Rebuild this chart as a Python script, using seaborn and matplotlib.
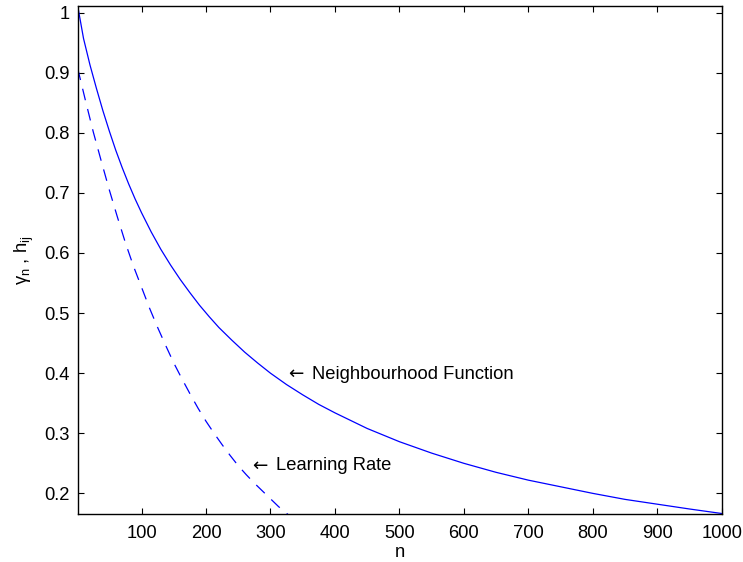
import matplotlib
matplotlib.use("Agg")
import matplotlib.pyplot as plt
import matplotlib.transforms as mtransforms
import seaborn as sns
import pandas as pd

# Neighbourhood function h_ij over the iterations n
nbr_n = [1, 10, 20, 30, 40, 50, 60, 70, 80, 90, 100, 115, 130, 145, 160, 175,
         190, 205, 220, 240, 260, 280, 300, 325, 350, 375, 400, 450, 500, 550,
         600, 650, 700, 750, 800, 850, 900, 950, 1000]
nbr_h = [1.011, 0.957, 0.913, 0.874, 0.837, 0.803, 0.771, 0.742, 0.715, 0.690,
         0.667, 0.635, 0.606, 0.580, 0.556, 0.534, 0.513, 0.494, 0.476, 0.455,
         0.435, 0.417, 0.400, 0.381, 0.364, 0.348, 0.334, 0.308, 0.286, 0.267,
         0.250, 0.235, 0.222, 0.211, 0.200, 0.190, 0.182, 0.174, 0.1665]

# Learning rate gamma_n over the iterations n
lr_n = [1, 12.5, 25, 37.5, 50, 62.5, 75, 87.5, 100, 112.5, 125, 137.5, 150,
        162.5, 175, 187.5, 200, 212.5, 225, 237.5, 250, 262.5, 275, 287.5,
        300, 312.5, 327]
lr_g = [0.907, 0.856, 0.802, 0.753, 0.705, 0.660, 0.617, 0.578, 0.543, 0.508,
        0.476, 0.446, 0.417, 0.391, 0.366, 0.342, 0.320, 0.300, 0.281, 0.263,
        0.246, 0.231, 0.217, 0.204, 0.191, 0.178, 0.165]

xticks = [100, 200, 300, 400, 500, 600, 700, 800, 900, 1000]
yticks = [0.2, 0.3, 0.4, 0.5, 0.6, 0.7, 0.8, 0.9, 1.0]
ytick_labels = ["0.2", "0.3", "0.4", "0.5", "0.6", "0.7", "0.8", "0.9", "1"]

# curve labels: (text, n, value)
labels = [("Neighbourhood Function", 328, 0.398),
          ("Learning Rate", 272, 0.2456)]

FS = 13.2

sns.set_style("ticks")
plt.rcParams["font.family"] = ["Liberation Sans", "DejaVu Sans"]
plt.rcParams["mathtext.fontset"] = "custom"
plt.rcParams["mathtext.rm"] = "Liberation Sans"
plt.rcParams["mathtext.it"] = "Liberation Sans"
plt.rcParams["lines.scale_dashes"] = False
plt.rcParams["text.color"] = "black"
plt.rcParams["axes.labelcolor"] = "black"

nbr = pd.DataFrame({"n": nbr_n, "value": nbr_h})
lr = pd.DataFrame({"n": lr_n, "value": lr_g})

fig = plt.figure(figsize=(7.43, 5.62), dpi=100)
ax = fig.add_axes([0.1046, 0.0849, 0.8668, 0.9044])

sns.lineplot(data=nbr, x="n", y="value", ax=ax, color="#0000ff", lw=0.9)
sns.lineplot(data=lr, x="n", y="value", ax=ax, color="#0000ff", lw=0.9)
ax.lines[1].set_dashes([8.5, 6.5])

ax.set_xlim(1, 1000)
ax.set_ylim(0.1652, 1.011)
ax.set_xticks(xticks)
ax.set_xticklabels([str(t) for t in xticks])
ax.set_yticks(yticks)
ax.set_yticklabels(ytick_labels)

ax.tick_params(direction="in", length=4, width=0.8, labelsize=FS,
               top=True, right=True, colors="black")
ax.tick_params(axis="x", pad=7.5)
ax.tick_params(axis="y", pad=6)
for side in ["top", "right", "bottom", "left"]:
    ax.spines[side].set_visible(True)
    ax.spines[side].set_linewidth(1.0)
    ax.spines[side].set_color("black")

ax.set_xlabel("n", fontsize=FS, labelpad=1.5)
ax.set_ylabel(r"$\gamma_{\mathrm{n}}$ , h$_{\mathrm{ij}}$", fontsize=FS, labelpad=6)

# arrow glyph followed by the label words
word_shift = mtransforms.offset_copy(ax.transData, fig=fig, x=17.0, y=0,
                                     units="points")
for txt, xn, yv in labels:
    ax.text(xn, yv, "\u2190", fontsize=FS, family="DejaVu Sans",
            ha="left", va="center")
    ax.text(xn, yv, txt, fontsize=FS, ha="left", va="center",
            transform=word_shift)

fig.savefig("out.png", dpi=100, facecolor="white")
